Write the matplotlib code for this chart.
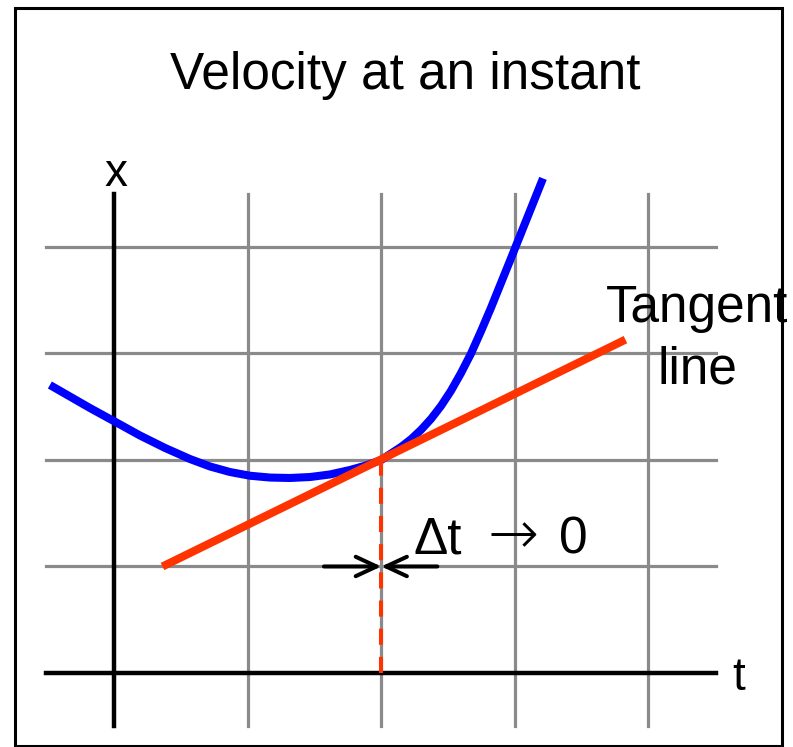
import matplotlib
matplotlib.use("Agg")
import matplotlib.pyplot as plt
from matplotlib.patches import Rectangle

plt.rcParams['font.family'] = ['Liberation Sans', 'DejaVu Sans']

# position curve x(t) (grid units)
curve_t = [-0.484, -0.334, -0.184, 0.0, 0.191, 0.379, 0.566, 0.716, 0.866,
           1.016, 1.166, 1.316, 1.466, 1.615, 1.765, 1.885, 2.0, 2.073,
           2.148, 2.223, 2.298, 2.373, 2.448, 2.523, 2.597, 2.672, 2.747,
           2.822, 2.897, 2.972, 3.047, 3.122, 3.212]
curve_x = [2.704, 2.596, 2.488, 2.362, 2.230, 2.113, 2.009, 1.939, 1.887,
           1.852, 1.835, 1.831, 1.840, 1.864, 1.906, 1.948, 2.0, 2.061,
           2.122, 2.195, 2.283, 2.386, 2.508, 2.651, 2.815, 2.998, 3.208,
           3.428, 3.661, 3.893, 4.128, 4.362, 4.644]

# tangent line at t = 2
tangent_t = [0.36, 3.83]
tangent_x = [1.0, 3.13]
t0 = 2.0
x0 = 2.0

grid_t = [1, 2, 3, 4]
grid_x = [1, 2, 3, 4]

fig = plt.figure(figsize=(7.93, 7.47), dpi=100)
ax = fig.add_axes([0, 0, 1, 1])
ax.set_xlim(-0.858, 5.086)
ax.set_ylim(-0.695, 6.319)
ax.axis('off')

# frame around the slide
fig.patches.append(Rectangle((15 / 793, 1 / 747), 767 / 793, 738 / 747,
                             transform=fig.transFigure, fill=False,
                             edgecolor='black', linewidth=2.2))

# grid
grey = '#8a8a8a'
for g in grid_t:
    ax.plot([g, g], [-0.5, 4.5], color=grey, lw=2.3, zorder=1)
for g in grid_x:
    ax.plot([-0.51, 4.51], [g, g], color=grey, lw=2.3, zorder=1)

# axes
ax.plot([0, 0], [-0.5, 4.5], color='black', lw=3.2, zorder=2)
ax.plot([-0.51, 4.51], [0, 0], color='black', lw=3.2, zorder=2)
ax.text(0.01, 4.57, 'x', fontsize=33, ha='center', va='baseline')
ax.text(4.63, -0.16, 't', fontsize=33, ha='left', va='baseline')

# curve and tangent
ax.plot(curve_t, curve_x, color='#0000ff', lw=5.8, solid_capstyle='butt',
        solid_joinstyle='round', zorder=3)
ax.plot(tangent_t, tangent_x, color='#ff3300', lw=5.8, solid_capstyle='butt',
        zorder=4)
ax.plot([t0, t0], [0, x0], color='#ff3300', lw=2.9, dashes=(4, 3),
        dash_capstyle='butt', zorder=4)

# delta t arrows
arrow = dict(arrowstyle='->,head_length=15,head_width=7', mutation_scale=1,
             lw=2.9, color='black', shrinkA=0, shrinkB=0)
ax.annotate('', xy=(t0, 1.0), xytext=(t0 - 0.43, 1.0), arrowprops=arrow)
ax.annotate('', xy=(t0, 1.0), xytext=(t0 + 0.42, 1.0), arrowprops=arrow)
ax.text(2.24, 1.12, 'Δt', fontsize=37, ha='left', va='baseline')
ax.text(2.99, 1.12, '→', fontsize=44, ha='center', va='baseline',
        family='DejaVu Sans', fontweight='light')
ax.text(3.33, 1.12, '0', fontsize=37, ha='left', va='baseline')

ax.text(4.37, 3.30, 'Tangent', fontsize=37, ha='center', va='baseline')
ax.text(4.37, 2.72, 'line', fontsize=37, ha='center', va='baseline')

ax.text(2.178, 5.48, 'Velocity at an instant', fontsize=37, ha='center',
        va='baseline')

fig.savefig('out.png', dpi=100)
